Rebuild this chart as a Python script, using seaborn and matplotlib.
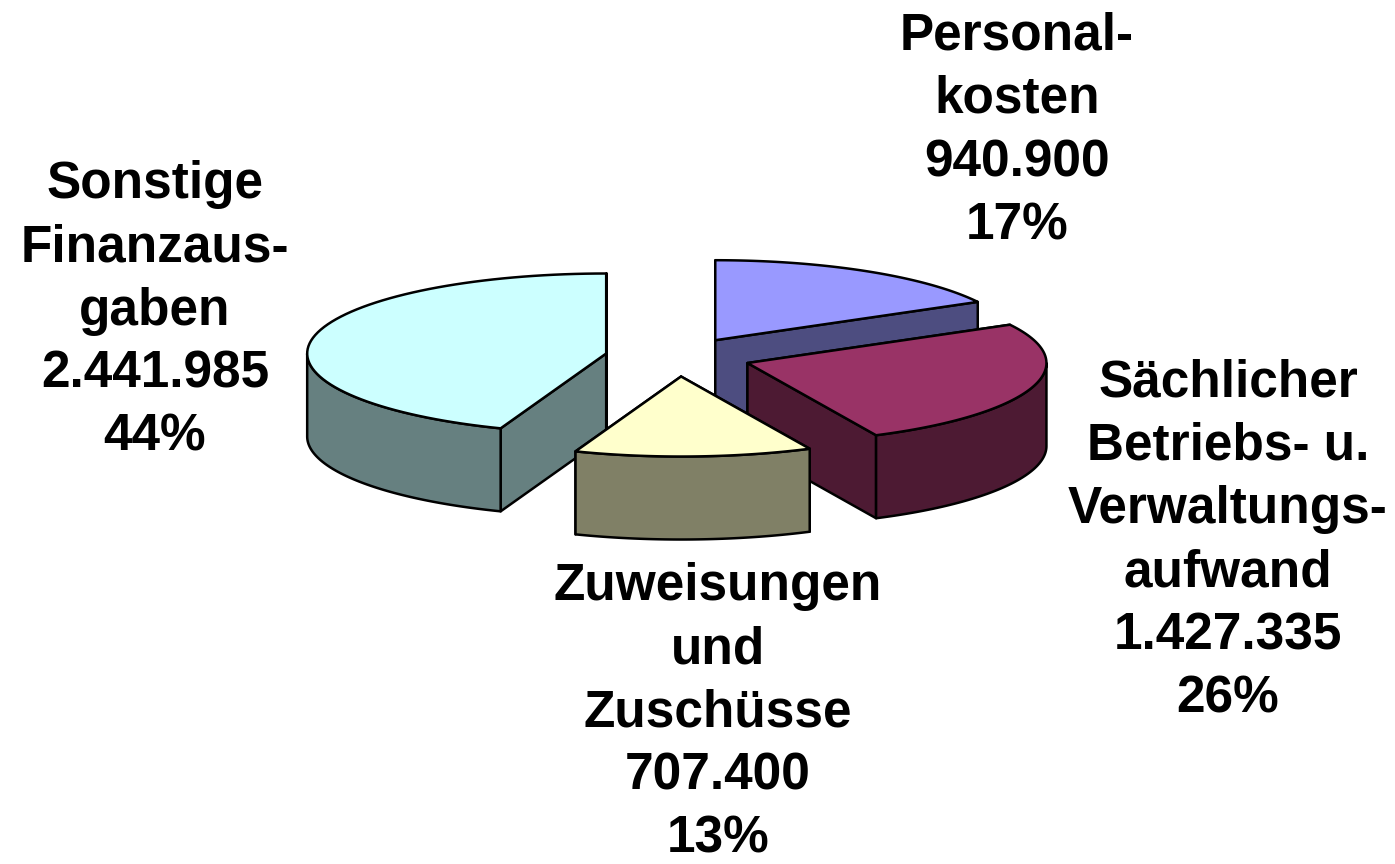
import numpy as np
import matplotlib
matplotlib.use("Agg")
import matplotlib.pyplot as plt
import seaborn as sns
from matplotlib.patches import Polygon

# data
categories = ["Personal-\nkosten",
              "Sächlicher\nBetriebs- u.\nVerwaltungs-\naufwand",
              "Zuweisungen\nund\nZuschüsse",
              "Sonstige\nFinanzaus-\ngaben"]
values = [940900, 1427335, 707400, 2441985]
top_colors = ["#9999FF", "#993366", "#FFFFCC", "#CCFFFF"]
side_colors = ["#4D4D80", "#4D1A33", "#808066", "#668080"]

# layout (pixel space of the figure)
W, H = 1395, 864
CX, CY = 678, 357          # centre of the unexploded pie
RX, RY = 299, 80           # ellipse radii of the top face
DEPTH = 83                 # thickness of the pie
EXPLODE = 73               # explode distance (in RX units)
label_pos = [(1017, 131), (1228, 541), (718, 713), (155, 311)]

sns.set_style("white")
plt.rcParams['font.family'] = ['Liberation Sans', 'DejaVu Sans']

fig = plt.figure(figsize=(W / 100, H / 100), dpi=100)
ax = fig.add_axes([0, 0, 1, 1])
ax.set_xlim(0, W)
ax.set_ylim(H, 0)
ax.axis('off')

total = sum(values)
fracs = np.array(values) / total
bounds = 90 - 360 * np.concatenate([[0], np.cumsum(fracs)])


def pt(cx, cy, t, dz=0):
    r = np.radians(t)
    return cx + RX * np.cos(r), cy - RY * np.sin(r) + dz


def arc(cx, cy, t1, t2, dz=0, n=80):
    ts = np.linspace(t1, t2, n)
    r = np.radians(ts)
    return np.column_stack([cx + RX * np.cos(r), cy - RY * np.sin(r) + dz])


def draw_poly(xy, color):
    ax.add_patch(Polygon(xy, closed=True, facecolor=color, edgecolor='black',
                         lw=1.8, joinstyle='round'))


slices = []
for i in range(len(values)):
    t1, t2 = bounds[i], bounds[i + 1]
    mid = np.radians((t1 + t2) / 2)
    cx = CX + EXPLODE * np.cos(mid)
    cy = CY - EXPLODE * (RY / RX) * np.sin(mid)
    slices.append((cy, i, cx, t1, t2))

# paint back to front
for cy, i, cx, t1, t2 in sorted(slices):
    side = side_colors[i]
    # radial walls
    for t in (t1, t2):
        ex, ey = pt(cx, cy, t)
        draw_poly([(cx, cy), (ex, ey), (ex, ey + DEPTH), (cx, cy + DEPTH)], side)
    # outer wall, front part only
    for k in (-1, 0, 1):
        lo = max(t2, -180 + 360 * k)
        hi = min(t1, 360 * k)
        if hi > lo:
            top = arc(cx, cy, hi, lo)
            bot = arc(cx, cy, lo, hi, DEPTH)
            draw_poly(np.vstack([top, bot]), side)
    # top face
    draw_poly(np.vstack([[(cx, cy)], arc(cx, cy, t1, t2)]), top_colors[i])

for i, (x, y) in enumerate(label_pos):
    num = f"{values[i]:,}".replace(",", ".")
    pct = f"{fracs[i] * 100:.0f}%"
    ax.text(x, y, f"{categories[i]}\n{num}\n{pct}", ha='center', va='center',
            fontsize=37, fontweight='bold', linespacing=1.37, color='black')

fig.savefig("out.png", dpi=100)
